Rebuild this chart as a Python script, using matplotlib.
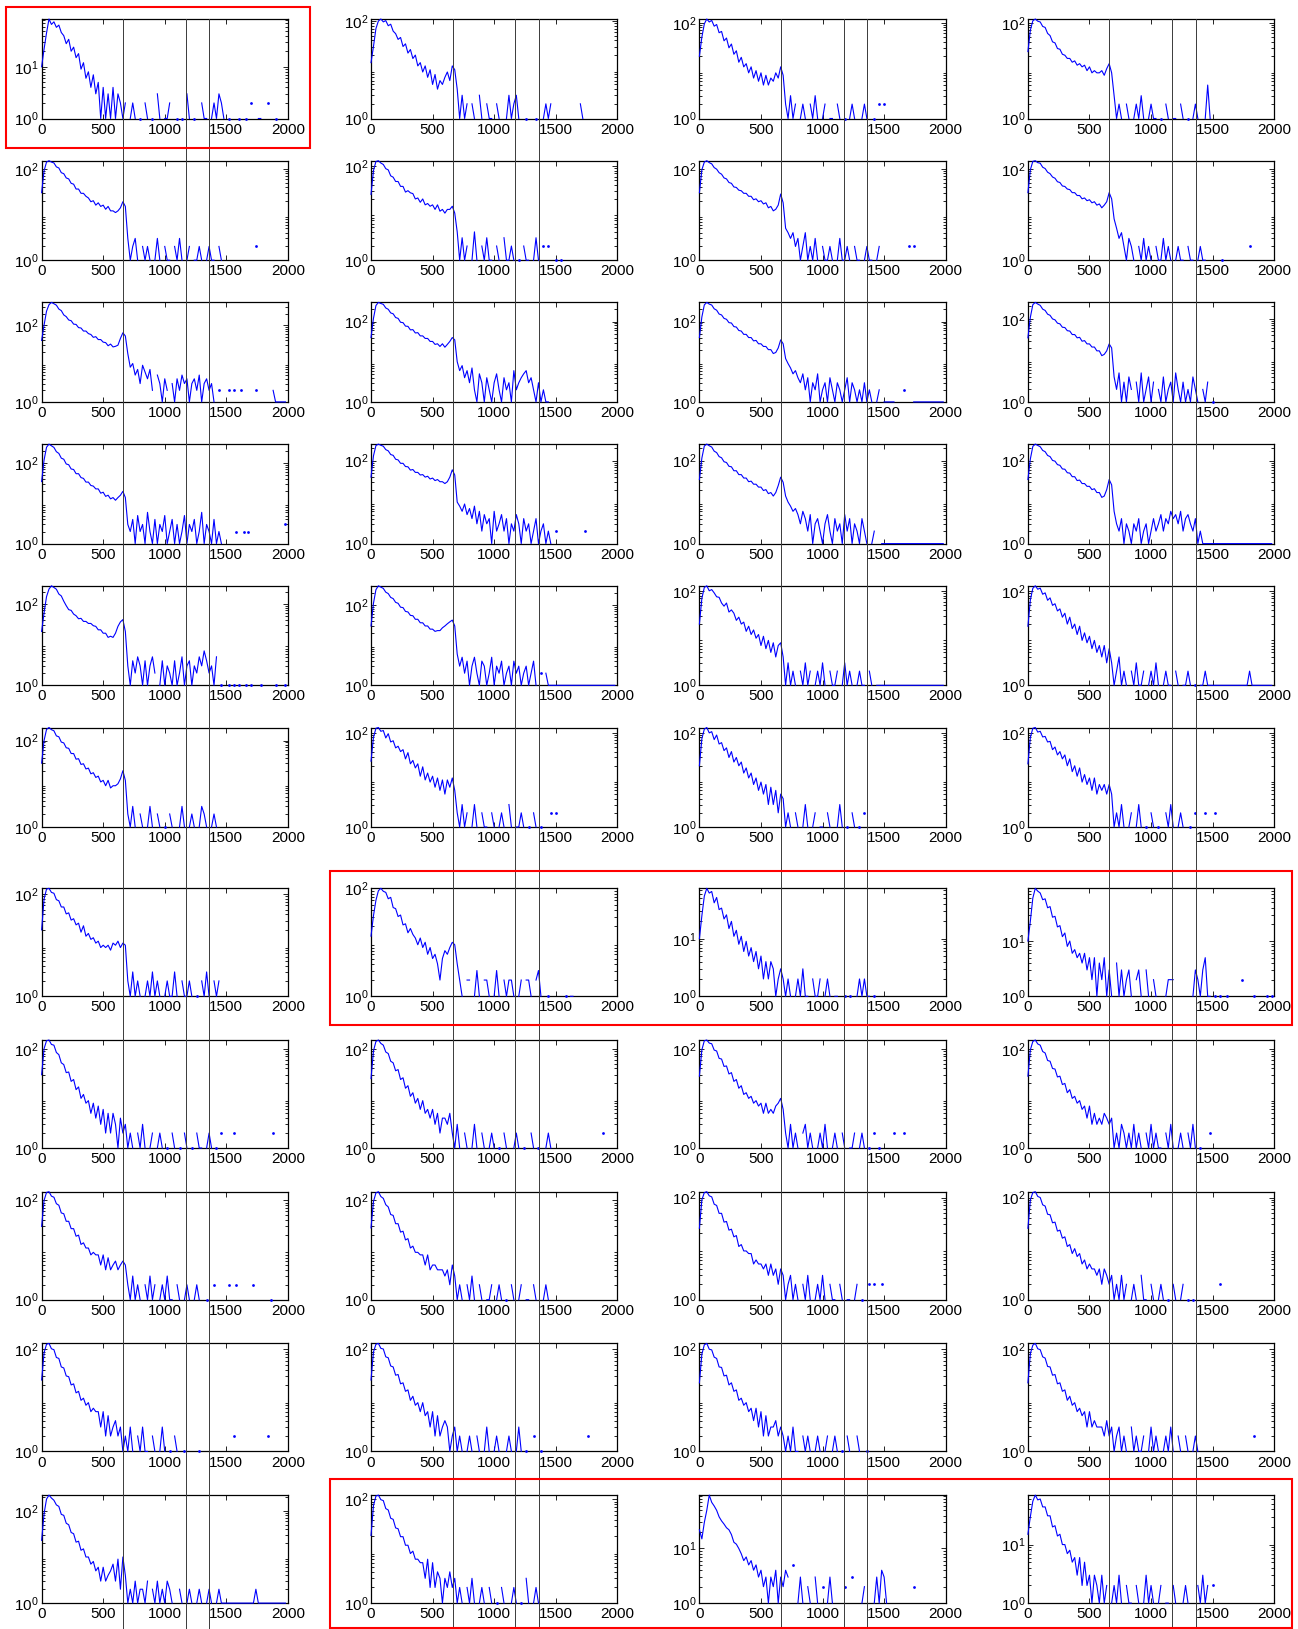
import numpy as np
import matplotlib
matplotlib.use("Agg")
import matplotlib.pyplot as plt
import matplotlib.transforms as mtransforms
from matplotlib.lines import Line2D
from matplotlib.patches import Rectangle
from matplotlib.ticker import LogLocator, NullFormatter

plt.rcParams["font.family"] = ["Liberation Sans", "DejaVu Sans"]
plt.rcParams["mathtext.fontset"] = "custom"
plt.rcParams["mathtext.rm"] = "Liberation Sans"
plt.rcParams["mathtext.default"] = "regular"

# ---------------------------------------------------------------- data
BIN_KEV = 20                      # histogram bin width (keV), first bin at 0
energy_ticks = [0, 500, 1000, 1500, 2000]
reference_energies = [662, 1173, 1362]   # keV, drawn as full-height guides

# counts per bin, one string per detector, rows of the grid (4 detectors each)
row01 = [
    "10 22 45 84 66 74 58 64 46 40 | 28 34 20 24 15 18 9 12 6 8 | 4 7 3 5 1 4 1 3 1 4 | 1 3 2 1 2 0 1 2 1 0 | 1 0 2 1 0 1 0 3 1 0 | 1 1 2 0 0 1 0 1 0 3 | 1 0 1 0 0 2 1 1 0 1 | 2 1 3 2 1 0 1 0 0 0 | 1 0 0 1 0 2 0 0 1 1 | 0 0 2 0 0 1 0 0 0 0",
    "14 30 70 100 110 96 102 80 86 62 | 55 42 46 30 34 22 26 17 20 12 | 14 9 12 7 10 5 8 4 6 5 | 7 9 6 12 10 4 1 3 1 2 | 0 2 1 0 3 1 0 2 1 1 | 0 2 1 0 0 1 3 1 2 3 | 1 0 0 1 0 0 0 1 0 0 | 1 2 1 2 0 0 0 0 0 0 | 0 0 0 0 0 2 1 0 0 0 | 0 0 0 0 0 0 0 0 0 0",
    "20 50 95 120 104 112 85 92 62 66 | 42 48 30 36 22 26 15 19 12 14 | 9 12 7 10 6 9 5 8 5 7 | 6 9 7 12 8 2 1 3 1 2 | 0 1 2 1 0 2 1 3 1 0 | 1 2 0 1 1 0 2 1 0 1 | 0 1 2 1 0 0 1 2 1 0 | 0 1 0 2 0 2 0 0 0 0 | 0 0 0 0 0 0 0 0 0 0 | 0 0 0 0 0 0 0 0 0 0",
    "25 70 110 120 108 104 84 80 60 54 | 40 38 29 28 22 21 18 18 15 16 | 13 14 12 13 10 12 9 10 9 9 | 10 8 11 14 9 3 1 2 1 0 | 2 1 0 1 2 1 3 1 0 1 | 2 1 1 0 1 0 2 1 0 1 | 1 0 2 1 0 1 0 1 2 1 | 0 0 1 5 1 0 0 0 0 0 | 0 0 0 0 0 0 0 0 0 0 | 0 0 0 0 0 0 0 0 0 0",
]
row02 = [
    "30 90 140 150 140 134 110 104 82 78 | 63 60 48 46 36 36 29 29 25 23 | 19 20 16 18 15 16 13 15 12 12 | 11 12 14 19 15 3 1 2 3 1 | 0 2 1 2 1 0 1 3 1 0 | 2 1 1 0 2 1 3 1 0 1 | 2 0 1 1 2 1 0 1 2 1 | 1 0 2 1 0 0 0 0 0 0 | 0 0 0 0 0 0 0 2 0 0 | 0 0 0 0 0 0 0 0 0 0",
    "25 80 125 130 116 108 88 83 62 58 | 47 47 37 37 28 30 27 26 20 21 | 17 20 15 16 14 15 12 15 11 12 | 10 12 12 14 10 4 1 3 1 2 | 0 1 4 1 0 2 1 3 1 1 | 0 2 1 0 3 1 1 2 1 0 | 1 0 2 1 1 0 1 3 1 0 | 2 0 2 0 0 1 0 1 0 0 | 0 0 0 0 0 0 0 0 0 0 | 0 0 0 0 0 0 0 0 0 0",
    "30 95 140 150 136 128 106 98 82 76 | 63 60 50 48 40 39 34 33 29 29 | 25 25 21 22 19 20 17 18 14 15 | 12 13 16 28 18 5 4 3 4 2 | 3 1 2 4 1 2 1 3 1 0 | 2 1 1 2 1 0 1 3 1 1 | 2 1 0 2 1 1 0 1 2 1 | 1 0 1 2 0 0 0 0 0 0 | 0 0 0 0 0 2 0 2 0 0 | 0 0 0 0 0 0 0 0 0 0",
    "30 95 145 150 136 132 108 101 84 78 | 66 62 52 50 42 41 36 35 30 30 | 26 26 22 23 20 21 18 19 16 17 | 14 16 19 30 22 8 5 3 4 2 | 1 3 2 1 0 2 1 3 1 2 | 1 0 2 1 1 3 1 2 1 0 | 1 2 1 1 0 2 1 1 0 1 | 2 1 1 0 0 0 0 0 0 1 | 0 0 0 0 0 0 0 0 0 0 | 2 0 0 0 0 0 0 0 0 0",
]
row03 = [
    "40 100 230 340 390 360 330 262 238 184 | 166 136 130 106 104 86 84 70 70 60 | 57 48 50 42 42 36 35 29 32 27 | 28 30 45 63 52 18 8 10 5 7 | 3 9 6 4 7 2 0 5 3 1 | 4 2 0 3 1 4 2 5 3 4 | 1 3 4 2 5 1 3 4 2 3 | 1 0 2 0 0 0 2 0 2 0 | 0 2 0 0 0 0 0 2 0 0 | 0 0 0 0 2 1 1 1 1 1",
    "40 120 250 300 282 268 218 202 164 156 | 126 120 96 94 77 76 62 63 52 53 | 44 44 38 38 32 32 27 28 24 28 | 23 27 32 40 35 10 6 8 4 6 | 3 7 2 1 5 3 1 4 2 1 | 3 5 2 1 4 2 3 1 6 2 | 3 4 5 6 3 4 2 1 3 1 | 2 1 1 0 0 0 0 0 0 0 | 0 0 0 0 0 0 0 0 0 0 | 0 0 0 0 0 0 0 0 0 0",
    "40 130 260 300 272 258 208 192 154 146 | 120 114 94 92 75 73 60 58 48 48 | 40 40 33 34 28 28 24 24 20 20 | 16 17 22 35 28 12 9 7 5 6 | 4 3 5 2 4 1 3 2 5 1 | 2 3 1 4 2 1 3 2 1 2 | 4 1 3 2 1 2 1 3 1 2 | 1 0 1 2 0 1 1 1 1 1 | 0 0 0 2 0 0 0 1 1 1 | 1 1 1 1 1 1 1 1 1 1",
    "35 110 220 250 228 212 172 160 130 122 | 100 95 79 76 63 62 52 51 42 42 | 35 36 29 30 25 25 21 21 17 17 | 13 14 17 25 20 4 2 5 1 3 | 1 4 2 0 3 1 5 1 2 4 | 1 3 0 2 1 4 1 2 3 1 | 5 2 1 3 1 2 1 4 2 1 | 0 2 1 3 0 1 0 0 0 0 | 0 0 0 0 0 0 0 0 0 0 | 0 0 0 0 0 0 0 0 0 0",
]
row04 = [
    "35 120 250 300 272 248 194 176 134 126 | 96 92 72 70 55 55 44 42 34 34 | 28 27 23 23 18 19 15 16 13 14 | 12 14 16 20 14 3 2 4 1 5 | 2 3 1 6 2 1 4 1 3 2 | 5 1 2 4 1 3 1 2 5 1 | 3 2 4 1 2 6 1 3 2 1 | 4 1 2 1 0 0 0 0 0 2 | 0 0 2 0 2 0 0 0 0 0 | 0 0 0 0 0 0 0 0 0 3",
    "40 130 230 250 234 222 184 172 140 134 | 108 104 86 86 72 71 59 61 52 52 | 45 46 40 42 36 38 33 35 31 31 | 28 31 40 60 45 10 8 6 9 5 | 7 4 8 3 6 2 5 3 4 1 | 6 2 3 5 2 4 1 3 2 5 | 3 1 4 2 3 1 2 4 1 2 | 3 1 2 1 0 2 0 0 0 0 | 0 0 0 0 0 0 0 2 0 0 | 0 0 0 0 0 0 0 0 0 0",
    "35 115 225 250 228 212 169 156 125 117 | 94 90 73 71 57 57 46 46 38 38 | 31 32 27 27 23 23 19 20 16 17 | 14 17 25 40 30 14 10 8 6 7 | 5 3 6 4 2 5 1 3 4 2 | 1 3 5 2 1 4 2 3 1 5 | 2 4 1 3 2 1 4 2 1 0 | 1 2 0 0 1 1 1 1 1 1 | 1 1 1 1 1 1 1 1 1 1 | 1 1 1 1 1 1 1 1 1 1",
    "35 110 220 250 232 216 176 164 133 125 | 101 97 80 77 63 62 51 50 41 41 | 33 34 28 28 24 24 20 21 17 17 | 13 14 20 35 26 6 3 2 4 1 | 3 2 1 3 2 4 1 2 3 1 | 2 4 2 3 5 2 4 3 6 4 | 5 3 6 2 4 5 3 2 4 1 | 2 1 1 1 1 1 1 1 1 1 | 1 1 1 1 1 1 1 1 1 1 | 1 1 1 1 1 1 1 1 1 1",
]
row05 = [
    "21 60 150 230 277 252 228 174 156 116 | 90 72 69 56 51 43 44 37 37 33 | 33 29 28 23 23 19 19 15 16 15 | 19 28 36 41 21 3 1 4 2 5 | 3 1 4 1 3 5 2 0 1 4 | 1 3 2 1 4 1 2 5 1 3 | 4 1 3 2 5 3 7 4 2 3 | 1 5 0 1 0 0 1 0 1 0 | 1 0 0 1 0 1 0 0 0 1 | 0 0 0 0 0 1 0 0 0 1",
    "30 110 240 300 278 258 208 192 154 144 | 116 110 88 86 69 67 55 54 44 44 | 36 36 30 30 25 25 22 23 23 27 | 30 34 38 42 30 6 3 5 2 4 | 1 3 5 2 1 4 3 1 2 5 | 1 3 2 4 1 2 3 1 4 2 | 3 1 2 3 1 2 4 1 0 2 | 0 2 1 1 1 1 1 1 1 1 | 1 1 1 1 1 1 1 1 1 1 | 1 1 1 1 1 1 1 1 1 1",
    "20 70 120 130 102 108 92 76 74 56 | 48 56 36 40 34 24 28 20 22 14 | 18 12 15 10 12 7 11 6 9 5 | 8 4 7 8 4 1 3 1 2 1 | 0 2 1 3 1 2 0 1 2 1 | 3 1 0 2 1 1 2 0 1 3 | 1 2 1 0 1 2 1 1 0 2 | 1 0 1 1 1 1 1 1 1 1 | 1 1 1 1 1 1 1 1 1 1 | 1 1 1 1 1 1 1 1 1 1",
    "18 65 115 130 110 116 86 92 64 72 | 50 54 38 42 28 34 20 28 16 20 | 12 18 9 13 8 11 6 9 5 7 | 4 7 3 6 3 1 2 4 1 2 | 1 0 2 1 3 1 1 2 0 1 | 2 1 3 1 0 1 2 1 1 0 | 2 1 0 1 1 2 1 0 1 0 | 1 1 2 1 1 1 1 1 1 1 | 1 1 1 1 1 1 1 1 1 1 | 2 1 1 1 1 1 1 1 1 1",
]
row06 = [
    "30 100 180 200 178 168 128 122 92 88 | 68 66 50 50 37 38 28 29 22 23 | 17 18 14 15 11 12 9 12 8 9 | 9 10 13 20 12 2 1 3 1 0 | 2 1 0 1 3 1 0 2 1 0 | 1 0 2 1 0 0 1 3 1 0 | 1 2 1 0 1 3 2 1 0 1 | 2 1 0 0 0 0 0 0 0 0 | 0 0 0 0 0 0 0 0 0 0 | 0 0 0 0 0 0 0 0 0 0",
    "25 80 125 130 108 112 78 96 64 68 | 48 52 40 44 28 38 22 26 18 22 | 12 19 10 14 9 12 7 11 6 10 | 5 10 7 11 6 2 1 3 1 2 | 0 1 3 1 0 2 1 1 0 2 | 1 0 1 2 1 0 3 1 0 1 | 1 2 1 0 1 0 2 1 0 1 | 0 0 0 2 0 2 0 0 0 0 | 0 0 0 0 0 0 0 0 0 0 | 0 0 0 0 0 0 0 0 0 0",
    "20 75 120 130 100 106 72 90 58 62 | 42 48 30 40 24 30 20 24 14 18 | 11 14 8 11 6 9 5 8 3 7 | 3 6 2 5 4 1 2 1 0 2 | 1 0 1 3 1 0 1 2 0 1 | 1 0 2 1 0 0 1 3 1 0 | 1 0 2 1 0 1 0 2 0 0 | 0 0 0 0 0 0 0 0 0 0 | 0 0 0 0 0 0 0 0 0 0 | 0 0 0 0 0 0 0 0 0 0",
    "22 80 125 130 104 108 82 84 64 66 | 44 50 34 40 28 34 20 28 15 20 | 12 18 9 13 8 11 6 11 5 8 | 6 8 5 8 5 1 2 1 3 1 | 0 1 2 0 1 3 1 0 1 0 | 2 1 0 1 0 0 2 1 3 1 | 0 1 2 1 0 0 1 0 2 0 | 0 0 2 0 0 0 2 0 0 0 | 0 0 0 0 0 0 0 0 0 0 | 0 0 0 0 0 0 0 0 0 0",
]
row07 = [
    "20 80 125 130 108 104 78 74 56 56 | 41 43 31 33 25 27 18 24 15 17 | 13 14 11 12 9 10 9 10 8 11 | 10 12 9 11 10 2 1 3 1 2 | 1 0 1 2 1 3 1 2 1 0 | 1 2 1 1 3 1 0 2 1 1 | 2 1 0 1 0 2 1 3 1 0 | 2 1 2 0 0 0 0 0 0 0 | 0 0 0 0 0 0 0 0 0 0 | 0 0 0 0 0 0 0 0 0 0",
    "13 31 60 90 100 88 84 64 68 44 | 42 30 32 21 22 15 18 14 12 9 | 12 8 10 6 8 5 6 4 2 5 | 7 6 8 10 9 4 2 1 0 2 | 2 0 1 3 1 0 2 2 1 0 | 1 3 1 0 2 1 2 2 1 0 | 1 2 0 2 2 1 0 2 3 1 | 0 0 1 0 0 0 0 0 0 1 | 0 1 1 0 0 0 0 0 0 0 | 0 0 0 0 0 0 0 0 0 0",
    "10 25 55 75 62 66 42 52 32 34 | 22 26 15 20 11 14 8 11 6 9 | 5 7 4 6 3 5 2 4 2 4 | 3 1 2 3 2 1 2 1 0 1 | 2 1 3 1 1 0 2 1 1 2 | 0 1 2 1 0 1 1 0 0 1 | 0 1 0 0 1 2 1 2 1 1 | 0 1 0 0 0 0 0 0 0 0 | 0 0 0 0 0 0 0 0 0 0 | 0 0 0 0 0 0 0 0 0 0",
    "10 23 60 90 80 74 56 58 40 42 | 27 28 18 19 12 14 8 10 6 7 | 5 6 4 6 3 5 2 5 1 4 | 2 5 1 3 1 0 4 1 3 1 | 2 3 1 0 2 3 1 0 3 1 | 0 2 1 0 0 0 1 2 2 2 | 0 0 0 0 0 0 0 1 3 2 | 1 3 5 1 1 0 1 0 1 0 | 0 1 0 0 0 0 0 2 0 0 | 0 0 1 0 0 0 0 1 0 1",
]
row08 = [
    "30 100 145 150 122 118 84 76 52 48 | 33 34 22 24 15 17 10 12 8 9 | 5 8 4 7 3 6 2 5 2 5 | 3 1 4 2 3 1 2 1 0 2 | 1 3 1 0 1 2 0 1 2 1 | 0 1 0 2 1 0 1 0 2 1 | 0 1 0 2 1 1 0 1 2 1 | 0 1 0 2 0 0 0 0 2 0 | 0 0 0 0 0 0 0 0 0 0 | 0 0 0 0 2 0 0 0 0 0",
    "25 90 140 150 128 118 86 80 56 52 | 36 38 24 26 16 18 11 13 8 10 | 6 9 5 6 4 6 3 5 2 4 | 4 3 5 2 1 3 1 0 2 1 | 0 1 3 1 0 2 1 0 1 2 | 1 0 1 0 2 1 0 0 1 2 | 1 0 1 0 0 2 1 0 1 0 | 0 1 2 1 0 0 0 0 0 0 | 0 0 0 0 0 0 0 0 0 0 | 0 0 0 0 2 0 0 0 0 0",
    "28 95 145 150 130 126 94 90 64 62 | 44 45 31 33 22 24 16 18 12 13 | 10 11 8 9 7 8 5 8 5 6 | 5 7 8 10 6 2 1 3 1 2 | 1 0 2 3 1 2 1 0 1 2 | 1 3 1 0 1 2 1 0 2 1 | 0 1 1 2 0 1 2 1 0 1 | 0 2 0 1 0 0 0 0 0 2 | 0 0 0 2 0 0 0 0 0 0 | 0 0 0 0 0 0 0 0 0 0",
    "28 95 140 150 125 118 88 82 58 56 | 40 39 27 28 19 20 13 15 10 11 | 8 9 6 7 4 7 3 5 3 4 | 3 5 4 3 4 1 2 1 3 2 | 1 2 1 3 1 2 1 0 2 1 | 3 1 2 1 1 0 2 1 3 1 | 0 1 2 1 0 2 1 3 1 0 | 1 0 0 0 2 0 0 0 0 0 | 0 0 0 0 0 0 0 0 0 0 | 0 0 0 0 0 0 0 0 0 0",
]
row09 = [
    "30 100 145 150 122 116 86 80 56 54 | 38 38 27 27 19 20 13 14 11 11 | 8 9 8 8 5 8 4 7 4 5 | 6 4 5 6 5 2 1 3 1 2 | 1 0 2 1 3 1 2 0 1 2 | 1 3 1 1 0 2 1 0 1 2 | 1 0 1 2 1 0 0 1 0 0 | 2 0 0 0 0 0 2 0 0 2 | 0 0 0 0 0 0 2 0 0 0 | 0 0 0 1 0 0 0 0 0 0",
    "28 95 142 150 120 110 82 74 52 50 | 34 34 23 24 16 17 11 12 9 9 | 8 8 5 8 4 5 5 4 4 4 | 3 4 2 5 3 1 2 1 0 2 | 1 3 1 0 2 1 0 1 1 2 | 0 1 2 1 0 1 0 2 1 0 | 1 2 0 1 1 0 2 1 0 0 | 1 2 1 0 0 0 0 0 0 0 | 0 0 0 0 0 0 0 0 0 0 | 0 0 0 0 0 0 0 0 0 0",
    "25 90 125 130 108 103 74 70 49 49 | 33 34 23 24 17 18 11 12 9 9 | 8 8 5 6 5 5 4 5 3 5 | 3 4 2 4 3 1 2 3 1 2 | 1 0 2 1 3 1 0 1 2 1 | 3 1 0 2 1 1 0 2 1 0 | 1 1 0 1 2 0 1 0 0 2 | 0 2 0 0 2 0 0 0 0 0 | 0 0 0 0 0 0 0 0 0 0 | 0 0 0 0 0 0 0 0 0 0",
    "25 90 125 130 105 100 72 68 47 46 | 32 33 22 23 16 17 11 12 8 10 | 7 8 5 6 4 5 4 4 3 4 | 2 4 3 2 3 1 2 1 3 1 | 2 0 1 2 1 0 3 1 1 0 | 2 1 0 1 2 1 0 1 0 2 | 1 0 1 2 0 1 0 1 0 0 | 0 0 0 0 0 0 0 0 2 0 | 0 0 0 0 0 0 0 0 0 0 | 0 0 0 0 0 0 0 0 0 0",
]
row10 = [
    "25 85 125 130 102 98 69 66 45 43 | 30 29 20 21 14 15 10 11 8 9 | 6 7 6 6 3 6 2 5 2 3 | 4 2 3 1 2 1 3 1 0 2 | 1 3 1 1 0 2 1 0 1 3 | 1 0 1 0 2 1 0 0 1 0 | 0 0 0 0 1 0 0 0 0 0 | 0 0 0 0 0 0 0 0 2 0 | 0 0 0 0 0 0 0 0 0 0 | 0 0 2 0 0 0 0 0 0 0",
    "25 88 125 130 104 101 71 68 47 45 | 31 32 21 22 15 16 10 12 8 9 | 6 9 5 6 3 6 2 5 2 3 | 4 3 1 2 3 1 2 1 0 1 | 2 1 0 2 1 0 1 3 1 0 | 1 2 1 0 0 1 2 1 0 1 | 3 1 0 1 0 0 2 0 0 1 | 0 0 0 0 0 0 0 0 0 0 | 0 0 0 0 0 0 0 0 2 0 | 0 0 0 0 0 0 0 0 0 0",
    "22 80 122 130 100 97 70 66 45 44 | 30 31 20 22 15 16 10 11 8 9 | 6 7 4 7 3 6 2 5 2 3 | 3 4 2 3 2 1 2 1 3 1 | 1 0 2 1 2 1 0 1 2 1 | 0 1 2 0 1 2 1 0 1 0 | 2 1 0 0 2 1 0 0 1 0 | 0 0 0 0 0 0 0 0 0 0 | 0 0 0 0 0 0 0 0 0 0 | 0 0 0 0 0 0 0 0 0 0",
    "22 82 120 130 102 98 71 67 46 45 | 31 32 21 22 15 16 10 12 8 9 | 6 7 5 6 3 6 3 4 3 3 | 3 2 4 2 3 1 2 3 1 2 | 1 0 3 1 2 1 1 2 0 1 | 3 1 2 1 0 1 2 1 3 1 | 0 2 1 0 2 1 0 1 2 1 | 0 0 0 0 0 0 0 0 0 0 | 0 0 0 0 0 0 0 0 0 0 | 0 0 2 0 0 0 0 0 0 0",
]
row11 = [
    "23 87 180 220 190 170 135 125 84 80 | 54 50 34 32 21 22 14 15 10 10 | 7 8 5 6 3 6 3 4 5 7 | 3 9 2 10 4 1 2 1 3 1 | 2 2 1 3 0 2 1 3 1 2 | 1 3 2 1 0 0 2 1 0 1 | 2 1 0 1 2 1 0 1 2 1 | 0 1 2 1 1 1 1 1 1 1 | 1 1 1 1 1 1 1 2 1 1 | 1 1 1 1 1 1 1 1 1 1",
    "20 75 115 120 98 94 66 62 43 41 | 28 27 19 19 13 13 9 10 7 7 | 6 6 3 7 2 6 2 4 3 1 | 3 2 4 2 3 1 2 1 0 2 | 1 3 1 0 1 2 1 0 2 1 | 0 1 0 2 1 0 0 1 2 1 | 0 1 0 3 1 0 1 2 1 0 | 0 0 0 0 0 0 0 0 0 0 | 0 0 0 0 0 0 0 0 0 0 | 0 0 0 0 0 0 0 0 0 0",
    "22 15 30 50 95 70 60 50 38 32 | 28 24 22 18 13 12 10 8 6 7 | 5 6 4 5 3 4 2 3 1 3 | 2 4 1 3 2 4 3 0 5 0 | 1 3 1 0 2 1 0 3 1 0 | 2 0 1 3 1 0 0 0 0 2 | 0 0 3 0 0 0 1 2 0 0 | 0 1 3 1 4 3 1 0 0 0 | 0 0 0 0 0 0 0 2 0 0 | 0 0 0 0 0 0 0 0 0 0",
    "15 30 55 70 58 60 44 44 31 31 | 20 21 14 15 10 10 7 8 5 6 | 3 6 2 5 2 3 1 3 2 1 | 3 1 2 0 1 2 1 3 1 0 | 2 1 1 0 2 1 0 1 3 1 | 2 1 0 1 2 0 1 1 0 2 | 1 0 0 1 2 1 0 0 0 2 | 1 3 1 2 0 2 0 0 0 0 | 0 0 0 0 0 0 0 0 0 0 | 0 0 0 0 0 0 0 0 0 0",
]
grid_rows = [row01, row02, row03, row04, row05, row06,
             row07, row08, row09, row10, row11]

# ---------------------------------------------------------------- layout (pixels)
W, H = 1298, 1629
col_left = [41.6, 371.0, 699.4, 1027.9]
ax_w = 246.3
row_top = [19.0 + 141.7 * i for i in range(6)] + [888.3 + 151.7 * i for i in range(5)]
row_h = [99.5] * 6 + [108.0] * 5

fig = plt.figure(figsize=(W / 100, H / 100), dpi=100)

LINE_BLUE = "#0000ff"
axes = []
for r, row in enumerate(grid_rows):
    ax_row = []
    for c, text in enumerate(row):
        counts = np.array(text.replace("|", " ").split(), dtype=float)[:100]
        energy = BIN_KEV * np.arange(len(counts))
        left = col_left[c] / W
        bottom = 1 - (row_top[r] + row_h[r]) / H
        ax = fig.add_axes([left, bottom, ax_w / W, row_h[r] / H])
        ax.set_yscale("log")

        shown = counts.copy()
        shown[shown <= 0] = np.nan
        ax.plot(energy, shown, color=LINE_BLUE, lw=0.8, zorder=3, clip_on=False)

        # single non-empty bins between empty ones would be invisible as a line
        prev_zero = np.r_[True, counts[:-1] <= 0]
        next_zero = np.r_[counts[1:] <= 0, True]
        lone = (counts > 0) & prev_zero & next_zero
        ax.plot(energy[lone], counts[lone], ls="none", marker="o", ms=2.0,
                mew=0, color=LINE_BLUE, zorder=3, clip_on=False)

        top = counts.max()
        ax.set_xlim(0, 2000)
        ax.set_ylim(1, top)
        ax.set_xticks(energy_ticks)
        ax.set_xticklabels([str(t) for t in energy_ticks])
        if top >= 100:
            ax.set_yticks([1, 100])
            ax.set_yticklabels([r"$10^{0}$", r"$10^{2}$"])
        else:
            ax.set_yticks([1, 10])
            ax.set_yticklabels([r"$10^{0}$", r"$10^{1}$"])
        ax.yaxis.set_minor_locator(LogLocator(base=10, subs=np.arange(2, 10)))
        ax.yaxis.set_minor_formatter(NullFormatter())
        ax.tick_params(which="both", direction="in", top=True, right=True,
                       width=0.6, labelsize=11, colors="black")
        ax.tick_params(which="major", length=3.5)
        ax.tick_params(which="minor", length=2.0)
        ax.tick_params(axis="y", pad=2)
        ax.tick_params(axis="x", pad=3)
        for sp in ax.spines.values():
            sp.set_linewidth(0.9)
            sp.set_color("black")
        ax_row.append(ax)
    axes.append(ax_row)

# guide lines at the reference energies, running down each column
y_top = 1 - row_top[0] / H
for c in range(4):
    trans = mtransforms.blended_transform_factory(axes[0][c].transData, fig.transFigure)
    for e in reference_energies:
        fig.add_artist(Line2D([e, e], [0, y_top], transform=trans,
                              color="#3a3a3a", lw=0.7, zorder=20))

# highlighted detector groups
boxes = [(6, 6.7, 310, 147.7), (330, 871, 1292, 1025), (330, 1479, 1292, 1627.5)]
for x0, y0, x1, y1 in boxes:
    fig.add_artist(Rectangle((x0 / W, 1 - y1 / H), (x1 - x0) / W, (y1 - y0) / H,
                             transform=fig.transFigure, fill=False,
                             edgecolor="#ff0000", lw=1.5, zorder=25))

fig.savefig("out.png", dpi=100)
